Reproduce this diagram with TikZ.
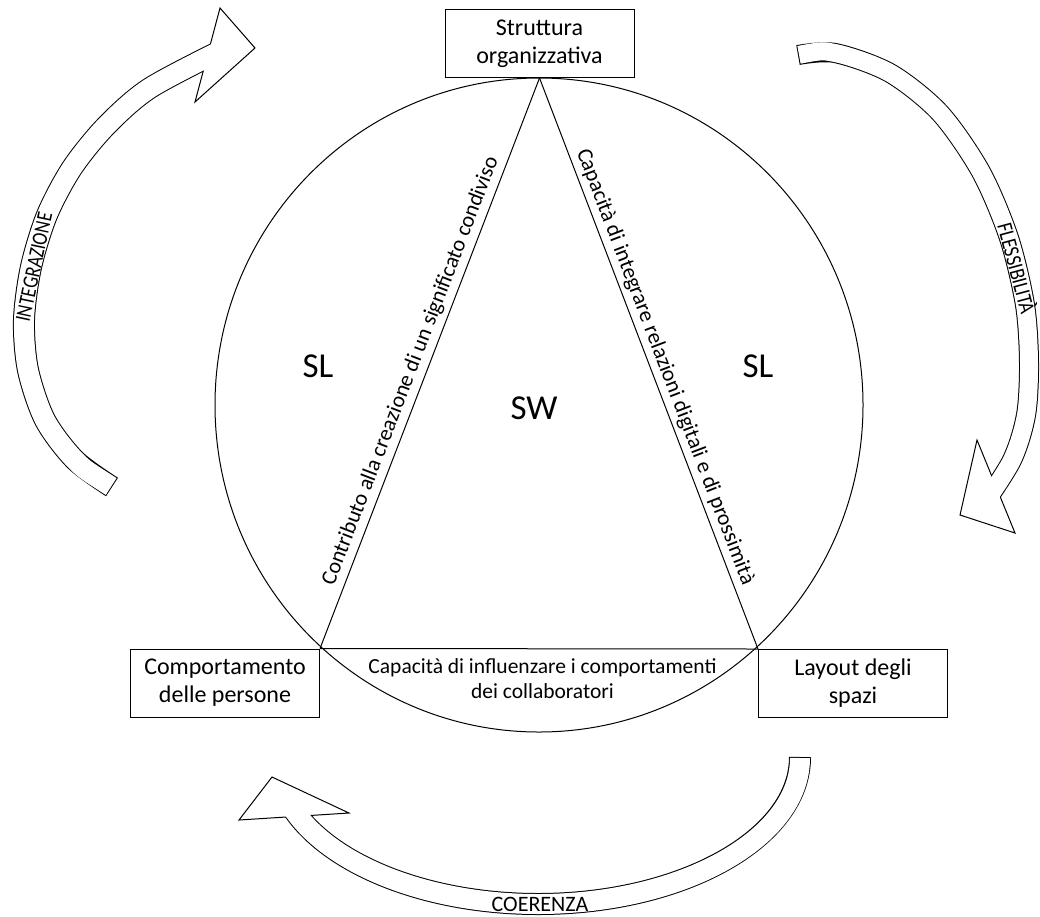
\documentclass[tikz,border=0pt]{standalone}
\usepackage{fontspec}
\setmainfont{Carlito}
\usetikzlibrary{calc}
\begin{document}
\begin{tikzpicture}[x=1pt,y=-1pt,
  box/.style={draw=black, line width=1pt, fill=white, align=center, inner sep=0pt,
    minimum width=189pt, minimum height=68pt, font=\fontsize{24}{28}\selectfont},
  edgetext/.style={font=\fontsize{22}{25}\selectfont, inner sep=0pt},
  bottomtext/.style={font=\fontsize{21.5}{25}\selectfont, inner sep=0pt},
  bigtext/.style={font=\fontsize{35}{40}\selectfont, inner sep=0pt},
  arrowtext/.style={font=\fontsize{22}{24}\selectfont, inner sep=0pt},
  thin/.style={line width=1pt, black},
  bandout/.style={line width=22pt, black},
  bandin/.style={line width=20pt, white},
  bandoutR/.style={line width=20pt, black},
  bandinR/.style={line width=18pt, white},
  head/.style={draw=black, line width=1pt, fill=white, line join=miter},
]
\useasboundingbox (0,0) rectangle (1040,916);

% big circle
\draw[thin] (539,405) ellipse[x radius=324, y radius=327];

% boxes
\node[box] (S) at (539.5,43.5) {Struttura\\organizzativa};
\node[box] (C) at (225,683) {Comportamento\\delle persone};
\node[box] (L) at (853,683.5) {Layout degli\\spazi};

% triangle
\draw[thin] (C.north east) -- node[edgetext, sloped, above=5pt, pos=0.477] (T1)
  {Contributo alla creazione di un significato condiviso} (S.south);
\draw[thin] (S.south) -- node[edgetext, sloped, above=4pt, pos=0.515] (T2)
  {Capacità di integrare relazioni digitali e di prossimità} (L.north west);
\draw[thin] (C.north east) -- node[bottomtext, below=9pt, pos=0.508, align=center] (T3)
  {Capacità di influenzare i comportamenti\\dei collaboratori} (L.north west);

% labels inside
\node[bigtext] (SL1) at (318,366) {SL};
\node[bigtext] (SL2) at (758,366) {SL};
\node[bigtext] (SW) at (534,408) {SW};

% left arrow (INTEGRAZIONE)
\draw[bandout] plot[smooth] coordinates {(112,487) (75,460) (45,420) (28,370) (24,320) (31,267) (47,215) (72,168) (106,126) (150,88) (226,48)};
\draw[head] (220,8) -- (255,48) -- (195,102) -- cycle;
\draw[bandin, shorten <=1pt] plot[smooth] coordinates {(112,487) (75,460) (45,420) (28,370) (24,320) (31,267) (47,215) (72,168) (106,126) (150,88) (226,48)};
\node[arrowtext, rotate=78, xscale=0.82] (INT) at (34,267) {INTEGRAZIONE};

% right arrow (FLESSIBILITA)
\draw[bandoutR] plot[smooth] coordinates {(798,55) (835,53) (890,73) (940,113) (981,172) (1009,238) (1025,305) (1029,363) (1026,415) (1012,460) (982,507)};
\draw[head] (977,440) -- (960,515) -- (1015,533) -- cycle;
\draw[bandinR, shorten <=1pt] plot[smooth] coordinates {(798,55) (835,53) (890,73) (940,113) (981,172) (1009,238) (1025,305) (1029,363) (1026,415) (1012,460) (982,507)};
\node[arrowtext, rotate=-75, xscale=0.85] (FLE) at (1018,268) {FLESSIBILITÀ};

% bottom arrow (COERENZA)
\draw[bandout] (800,757) arc[start angle=0, end angle=163, x radius=262, y radius=147];
\draw[head] (272,777) -- (349,813) -- (239,820) -- cycle;
\draw[bandin, shorten <=1pt] (800,757) arc[start angle=0, end angle=163, x radius=262, y radius=147];
\node[arrowtext] (COE) at (540,904) {COERENZA};
\end{tikzpicture}
\end{document}
